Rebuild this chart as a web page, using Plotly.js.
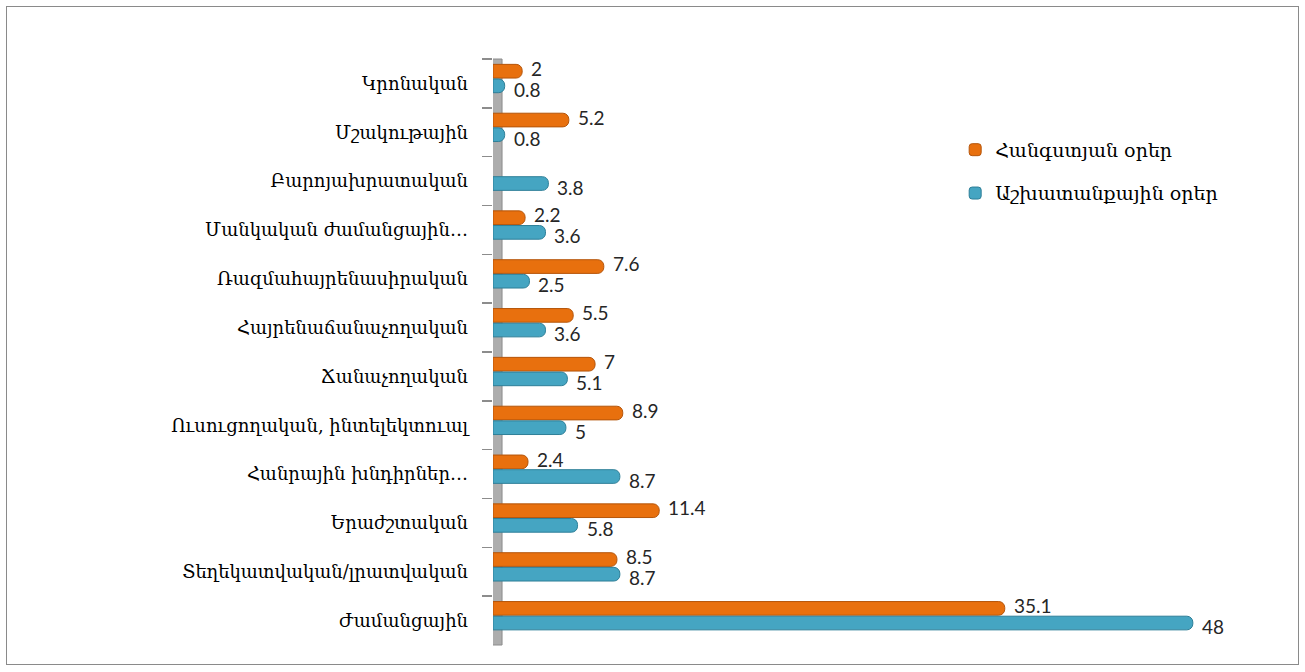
<!DOCTYPE html>
<html><head><meta charset="utf-8">
<script src="https://cdn.plot.ly/plotly-3.0.1.min.js"></script>
<style>
html,body{margin:0;padding:0;background:#fff;}
#chart{width:1305px;height:672px;}
#frame{position:absolute;left:6px;top:6px;width:1291px;height:657px;border:1px solid #8a8a8a;pointer-events:none;}
</style></head>
<body>
<div id="chart"></div>
<div id="frame"></div>
<script>
const categories = [
  "Կրոնական",
  "Մշակութային",
  "Բարոյախրատական",
  "Մանկական ժամանցային…",
  "Ռազմահայրենասիրական",
  "Հայրենաճանաչողական",
  "Ճանաչողական",
  "Ուսուցողական, ինտելեկտուալ",
  "Հանրային խնդիրներ…",
  "Երաժշտական",
  "Տեղեկատվական/լրատվական",
  "Ժամանցային"
];
const weekendValues = [2, 5.2, null, 2.2, 7.6, 5.5, 7, 8.9, 2.4, 11.4, 8.5, 35.1];
const workdayValues = [0.8, 0.8, 3.8, 3.6, 2.5, 3.6, 5.1, 5, 8.7, 5.8, 8.7, 48];
const seriesNames = ["Հանգստյան օրեր", "Աշխատանքային օրեր"];

const labelFont = {family: "Lato, 'Open Sans', sans-serif", size: 19, color: "#262626"};
const armFont = "'DejaVu Serif', 'DejaVu Sans', serif";

const traces = [
  {
    type: "bar", orientation: "h", name: seriesNames[0], legend: "legend",
    y: categories, x: weekendValues,
    width: 0.28, offset: -0.39,
    marker: {color: "#E8700E", line: {color: "#B5550A", width: 1}, cornerradius: 6},
    hoverinfo: "x+name"
  },
  {
    type: "bar", orientation: "h", name: seriesNames[1], legend: "legend2",
    y: categories, x: workdayValues,
    width: 0.28, offset: -0.09,
    marker: {color: "#45A5C2", line: {color: "#2E7F98", width: 1}, cornerradius: 6},
    hoverinfo: "x+name"
  }
];

function valueLabels(values, yshift) {
  const out = [];
  values.forEach((v, i) => {
    if (v === null) return;
    out.push({
      x: v, y: categories[i], xref: "x", yref: "y",
      text: String(v), showarrow: false,
      xanchor: "left", yanchor: "middle",
      xshift: 7, yshift: yshift, font: labelFont
    });
  });
  return out;
}

const legendBase = {
  xanchor: "left", yanchor: "middle",
  font: {family: armFont, size: 19, color: "#000"},
  itemwidth: 30, bgcolor: "rgba(0,0,0,0)"
};

const layout = {
  width: 1305, height: 672,
  margin: {l: 493, r: 83, t: 59, b: 27, pad: 0},
  paper_bgcolor: "#ffffff", plot_bgcolor: "rgba(0,0,0,0)",
  barmode: "group",
  showlegend: true,
  legend: Object.assign({}, legendBase, {x: 0.634, y: 0.845}),
  legend2: Object.assign({}, legendBase, {x: 0.634, y: 0.771}),
  xaxis: {
    range: [0, 50], showgrid: false, zeroline: false, showline: false,
    showticklabels: false, ticks: "", fixedrange: true
  },
  yaxis: {
    type: "category", range: [categories.length - 0.5, -0.5],
    showgrid: false, zeroline: false,
    showline: false,
    ticks: "outside", tickson: "boundaries", ticklen: 10, tickcolor: "#8c8c8c", tickwidth: 1.5,
    ticklabelstandoff: 24,
    tickfont: {family: armFont, size: 18, color: "#000"},
    fixedrange: true
  },
  annotations: valueLabels(weekendValues, 15).concat(valueLabels(workdayValues, -6)),
  shapes: [
    {type: "rect", xref: "x", yref: "paper", x0: -0.41, x1: 0.62, y0: 0, y1: 1,
     fillcolor: "#adadad", line: {color: "#8c8c8c", width: 1}, layer: "below"},
    {type: "rect", xref: "x", yref: "paper", x0: -0.41, x1: -0.2, y0: 0, y1: 1,
     fillcolor: "#959595", line: {width: 0}, layer: "below"}
  ]
};

Plotly.newPlot("chart", traces, layout, {displayModeBar: false, staticPlot: true});
</script>
</body></html>
